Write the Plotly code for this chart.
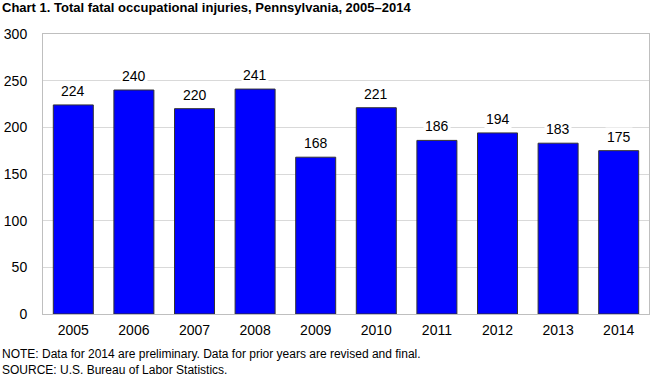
import plotly.graph_objects as go

years = ["2005", "2006", "2007", "2008", "2009", "2010", "2011", "2012", "2013", "2014"]
fatalities = [224, 240, 220, 241, 168, 221, 186, 194, 183, 175]
y_ticks = [0, 50, 100, 150, 200, 250, 300]

title_text = "Chart 1. Total fatal occupational injuries, Pennsylvania, 2005\u20132014"
note_text = "NOTE: Data for 2014 are preliminary. Data for prior years are revised and final."
source_text = "SOURCE: U.S. Bureau of Labor Statistics."

FONT = "Arial, Liberation Sans, sans-serif"

fig = go.Figure()
fig.add_trace(go.Bar(
    x=years, y=fatalities,
    marker=dict(color="#0000FF", line=dict(color="#333333", width=1)),
    hoverinfo="x+y",
))

# value labels: category index positions on the category axis
for i, v in enumerate(fatalities):
    fig.add_annotation(x=i, y=v, text=str(v), showarrow=False,
                       yanchor="bottom", yshift=4, bgcolor="white", borderpad=1,
                       font=dict(family=FONT, size=14, color="black"))

fig.add_annotation(x=0, y=1, xref="paper", yref="paper", xanchor="left", yanchor="bottom",
                   xshift=-43, yshift=17, text="<b>" + title_text + "</b>", showarrow=False,
                   font=dict(family=FONT, size=13, color="black"))
fig.add_annotation(x=0, y=0, xref="paper", yref="paper", xanchor="left", yanchor="top",
                   xshift=-43, yshift=-31, text=note_text + "<br>" + source_text, showarrow=False,
                   align="left", font=dict(family=FONT, size=12, color="black"))

fig.update_layout(
    width=650, height=376,
    margin=dict(l=43, r=1, t=34, b=62),
    paper_bgcolor="white", plot_bgcolor="white",
    bargap=0.34, showlegend=False,
    font=dict(family=FONT, size=14, color="black"),
    xaxis=dict(type="category", range=[-0.5, len(years) - 0.5], showline=True,
               linecolor="#BFBFBF", linewidth=1, mirror=True, ticklabelstandoff=3,
               ticks="", showgrid=False, tickfont=dict(size=14), automargin=False),
    yaxis=dict(range=[0, 300], tickvals=y_ticks, showline=True, linecolor="#BFBFBF",
               linewidth=1, mirror=True, ticks="", showgrid=True, gridcolor="#D9D9D9",
               zeroline=False, ticklabelstandoff=12, tickfont=dict(size=14), automargin=False),
)

fig.write_html("out.html", config={"displayModeBar": False},
               post_script="document.body.style.margin='0';document.body.style.overflow='hidden';")
